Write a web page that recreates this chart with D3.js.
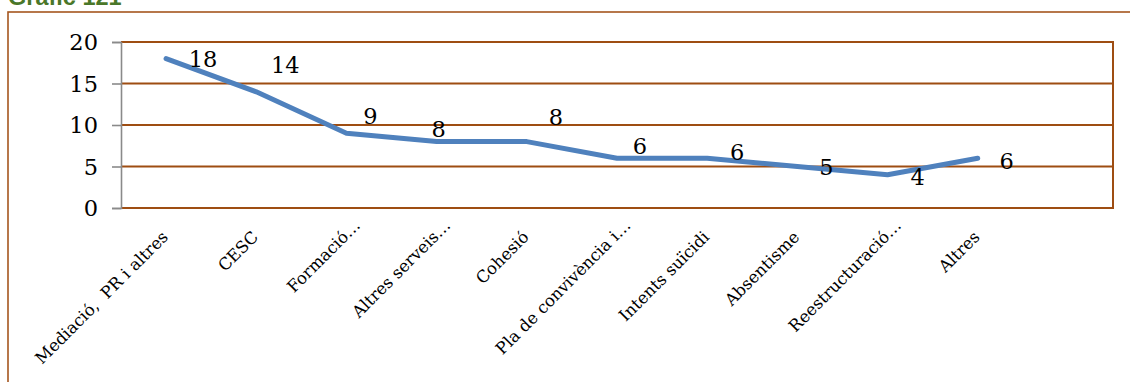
<!DOCTYPE html>
<html>
<head>
<meta charset="utf-8">
<script src="https://cdn.jsdelivr.net/npm/d3@7"></script>
<style>
  html, body { margin: 0; padding: 0; background: #fff; }
  svg { display: block; }
</style>
</head>
<body>
<svg id="chart" width="1130" height="382"></svg>
<script>
// ---- data ----
const title = "Gràfic 121";
const categories = ["Mediació,  PR i altres", "CESC", "Formació…", "Altres serveis…", "Cohesió",
  "Pla de convivència i…", "Intents suïcidi", "Absentisme", "Reestructuració…", "Altres"];
const values = [18, 14, 9, 8, 8, 6, 6, 5, 4, 6];
const yTicks = [0, 5, 10, 15, 20];
// data label offsets from their point (layout, px)
const labelOffsets = [[37, 1], [29, -27], [24, -17], [2, -12], [29, -24], [23, -12], [30, -6], [29, 1], [30, 2], [29, 3]];

// ---- layout ----
const brown = "#9e4d12";
const svg = d3.select("#chart");
const pLeft = 121, pRight = 1113, pTop = 42, pBottom = 208;
const slots = categories.length + 1;           // chart reserves one empty slot at the right
const step = (pRight - pLeft) / slots;

const x = d3.scalePoint().domain(categories).range([pLeft + step / 2, pRight - step * 1.5]);
const y = d3.scaleLinear().domain([0, 20]).range([pBottom, pTop]);

// title (mostly cut off at the top, as in the source)
svg.append("text").attr("x", 8).attr("y", 5)
  .attr("font-family", "Liberation Sans, Arial, sans-serif").attr("font-weight", "bold")
  .attr("font-size", 23.5).attr("fill", "#4a7729").text(title);

// outer frame
svg.append("rect").attr("x", 8).attr("y", 12).attr("width", 1200).attr("height", 500)
  .attr("fill", "none").attr("stroke", "#a5561f").attr("stroke-width", 1.6);

// gridlines
svg.append("g").selectAll("line").data(yTicks).join("line")
  .attr("x1", pLeft).attr("x2", pRight)
  .attr("y1", d => y(d)).attr("y2", d => y(d))
  .attr("stroke", brown).attr("stroke-width", 1.8);

// plot border (top/right/bottom)
svg.append("path")
  .attr("d", `M${pLeft},${pTop}H${pRight}V${pBottom}H${pLeft}`)
  .attr("fill", "none").attr("stroke", brown).attr("stroke-width", 2);

// y axis
const yAxis = svg.append("g").attr("transform", `translate(${pLeft},0)`)
  .call(d3.axisLeft(y).tickValues(yTicks).tickSize(9).tickPadding(14).tickFormat(d3.format("d")));
yAxis.select(".domain").attr("stroke", "#8a8a8a").attr("stroke-width", 1.6);
yAxis.selectAll(".tick line").attr("stroke", "#8a8a8a").attr("stroke-width", 1.6);
yAxis.selectAll(".tick text").attr("font-family", "DejaVu Serif, serif").attr("font-size", 22.5)
  .attr("fill", "#000").attr("dy", "0.35em");

// category labels, rotated
const catG = svg.append("g");
categories.forEach(c => {
  const hasEll = c.endsWith("…");
  const main = hasEll ? c.slice(0, -1) : c;
  const t = catG.append("text")
    .attr("transform", `translate(${x(c) + 3},238) rotate(-45)`)
    .attr("font-family", "DejaVu Serif, serif").attr("font-size", 16.5)
    .attr("fill", "#000").style("white-space", "pre")
    .attr("text-anchor", "start");
  const ts = t.append("tspan").text(main);
  if (hasEll) t.append("tspan").text("…");
  const w = ts.node().getComputedTextLength();
  t.attr("x", -w);
});

// line
const line = d3.line().x((d, i) => x(categories[i])).y(d => y(d));
svg.append("path").datum(values).attr("d", line)
  .attr("fill", "none").attr("stroke", "#4f81bd").attr("stroke-width", 5)
  .attr("stroke-linecap", "round").attr("stroke-linejoin", "round");

// data labels
svg.append("g").selectAll("text").data(values).join("text")
  .attr("x", (d, i) => x(categories[i]) + labelOffsets[i][0])
  .attr("y", (d, i) => y(d) + labelOffsets[i][1])
  .attr("dy", "0.35em").attr("text-anchor", "middle")
  .attr("font-family", "DejaVu Serif, serif").attr("font-size", 22.5).attr("fill", "#000")
  .text(d => d);
</script>
</body>
</html>
